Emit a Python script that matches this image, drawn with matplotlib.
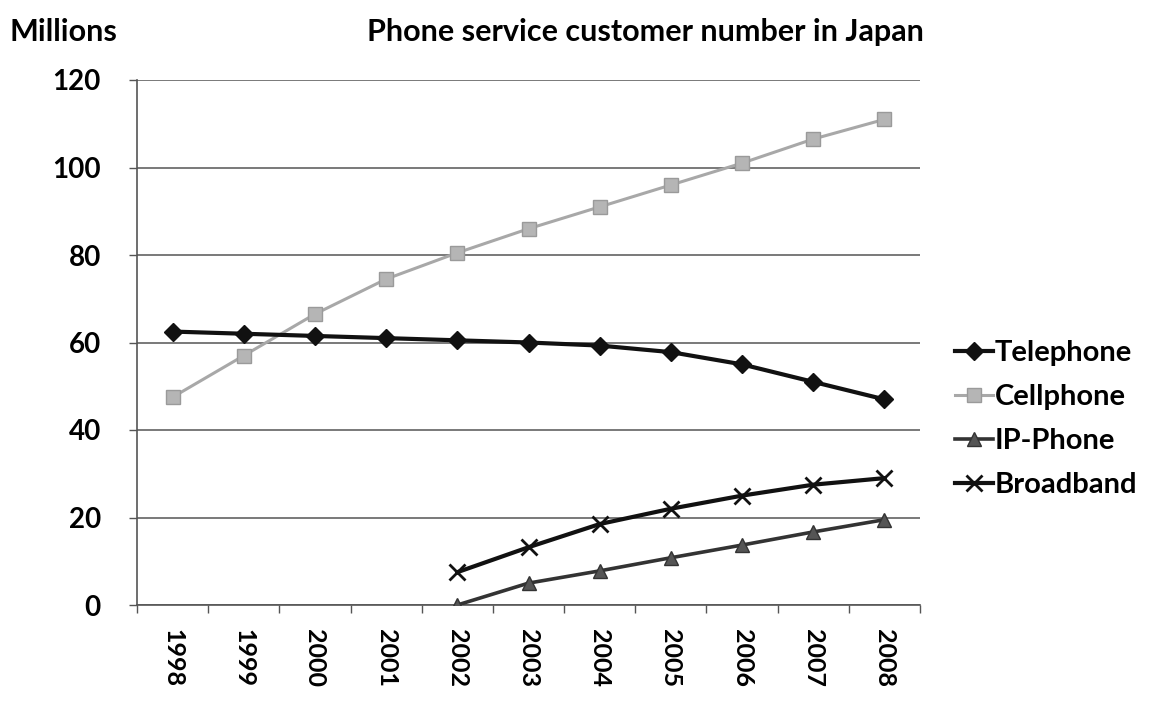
import matplotlib
matplotlib.use("Agg")
import matplotlib.pyplot as plt
import numpy as np

years = ["1998", "1999", "2000", "2001", "2002", "2003", "2004", "2005", "2006", "2007", "2008"]
telephone = [62.5, 62, 61.5, 61, 60.5, 60, 59.3, 57.8, 55, 51, 47]
cellphone = [47.5, 57, 66.5, 74.5, 80.5, 86, 91, 96, 101, 106.5, 111]
ip_phone = [None, None, None, None, 0, 5, 7.8, 10.8, 13.7, 16.7, 19.5]
broadband = [None, None, None, None, 7.5, 13.2, 18.5, 22, 25, 27.5, 29]
y_ticks = [0, 20, 40, 60, 80, 100, 120]

plt.rcParams["font.family"] = ["Lato", "DejaVu Sans"]

fig = plt.figure(figsize=(11.51, 7.02), dpi=100)
ax = fig.add_axes([137 / 1151, (702 - 605) / 702, (920 - 137) / 1151, (605 - 80) / 702])

x = np.arange(len(years))


def series(vals):
    return np.array([np.nan if v is None else v for v in vals], dtype=float)


ax.plot(x, series(telephone), color="#111111", lw=3, marker="D", ms=9,
        mfc="#111111", mec="#111111", label="Telephone", zorder=4)
ax.plot(x, series(cellphone), color="#a8a8a8", lw=2.2, marker="s", ms=10,
        mfc="#b5b5b5", mec="#9a9a9a", label="Cellphone", zorder=3)
ax.plot(x, series(ip_phone), color="#333333", lw=2.6, marker="^", ms=10,
        mfc="#555555", mec="#333333", label="IP-Phone", zorder=4)
ax.plot(x, series(broadband), color="#111111", lw=3, marker="x", ms=11,
        mew=2, mec="#111111", label="Broadband", zorder=4)

ax.set_xlim(-0.5, len(years) - 0.5)
ax.set_ylim(0, 120)
ax.set_yticks(y_ticks)
ax.set_yticklabels([str(t) for t in y_ticks], fontsize=20, fontweight="bold")
ax.set_xticks(x)
ax.set_xticklabels(years, rotation=270, fontsize=18, fontweight="bold")
ax.tick_params(axis="x", which="major", length=0, pad=17)
ax.set_xticks(np.arange(-0.5, len(years), 1), minor=True)
ax.tick_params(axis="x", which="minor", length=6, width=1, color="#555555", direction="out")
ax.tick_params(axis="y", length=6, width=1, color="#555555", pad=20)

ax.grid(axis="y", color="#555555", lw=1.1, zorder=0)
for side in ["top", "right"]:
    ax.spines[side].set_visible(False)
ax.spines["left"].set_color("#555555")
ax.spines["bottom"].set_color("#555555")
ax.spines["left"].set_linewidth(1.2)
ax.spines["bottom"].set_linewidth(1.2)

fig.text(10 / 1151, 1 - 32 / 702, "Millions", fontsize=22, fontweight="bold",
         va="center", ha="left")
fig.text(645 / 1151, 1 - 32 / 702, "Phone service customer number in Japan",
         fontsize=22, fontweight="bold", va="center", ha="center")

leg = fig.legend(loc="center left", bbox_to_anchor=(955 / 1151, 1 - 419 / 702),
                 frameon=False, handlelength=1.3, handletextpad=0.05,
                 borderpad=0, borderaxespad=0,
                 labelspacing=0.62, prop={"weight": "bold", "size": 21})

fig.savefig("out.png", dpi=100)
